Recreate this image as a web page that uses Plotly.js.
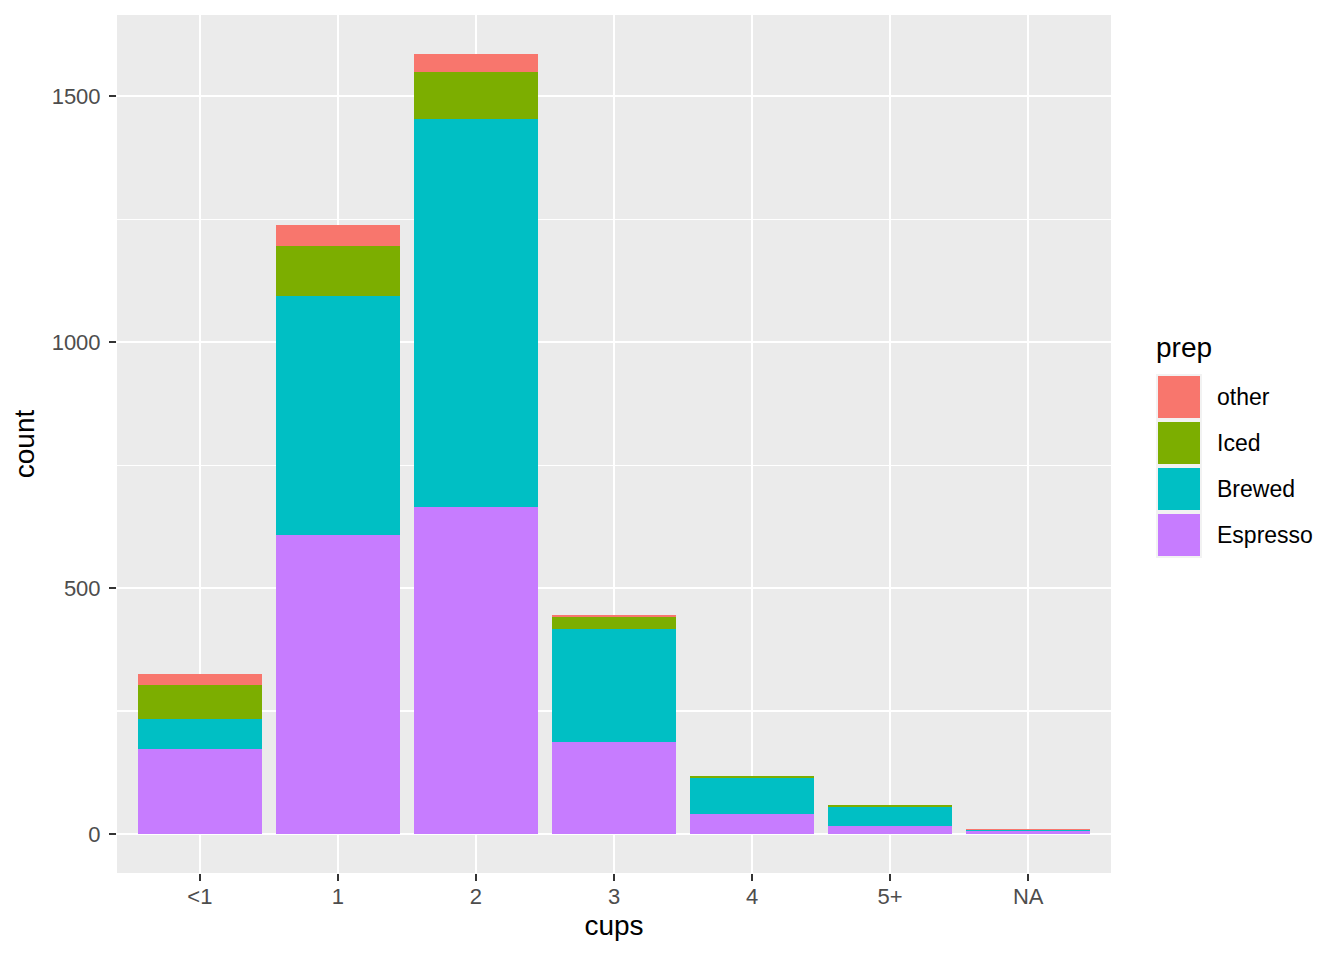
<!DOCTYPE html>
<html>
<head>
<meta charset="utf-8">
<script src="https://cdn.plot.ly/plotly-3.0.1.min.js"></script>
<style>body{margin:0;background:#fff;}#chart{width:1344px;height:960px;}</style>
</head>
<body>
<div id="chart"></div>
<script>
// Data
const cups = ["<1", "1", "2", "3", "4", "5+", "NA"];
const espresso = [173, 608, 665, 188, 41, 16, 6];
const brewed   = [61, 486, 788, 229, 73, 39, 3];
const iced     = [69, 102, 96, 24, 4, 4, 0];
const other    = [22, 43, 37, 4, 0, 0, 1];
const prepNames  = ["Espresso", "Brewed", "Iced", "other"];
const prepColors = ["#C77CFF", "#00BFC4", "#7CAE00", "#F8766D"];
const yTicks = [0, 500, 1000, 1500];

const series = [espresso, brewed, iced, other];
const traces = series.map((vals, i) => ({
  type: "bar",
  x: cups,
  y: vals,
  name: prepNames[i],
  width: 0.9,
  marker: {color: prepColors[i], line: {width: 0}},
  showlegend: false,
  hoverinfo: "x+y+name"
}));

// totals for axis expansion (ggplot default 5%)
const totals = cups.map((c, j) => series.reduce((s, v) => s + v[j], 0));
const ymax = Math.max(...totals);
const pad = ymax * 0.05;

const font = "Liberation Sans, Arial, Helvetica, sans-serif";

// plot area in pixels
const L = 117, R = 1111, T = 15, B = 873;
const px = x => (x - L) / (R - L);
const py = y => (B - y) / (B - T);

// custom legend (ggplot style)
const legendOrder = [3, 2, 1, 0];
const shapes = [];
const annotations = [];
const keyTop = 374, keyH = 46, keyL = 1156, keyR = 1202;
shapes.push({type: "rect", xref: "paper", yref: "paper",
  x0: px(keyL), x1: px(keyR), y0: py(keyTop), y1: py(keyTop + keyH * 4),
  fillcolor: "#F2F2F2", line: {width: 0}});
legendOrder.forEach((idx, k) => {
  const t = keyTop + k * keyH;
  shapes.push({type: "rect", xref: "paper", yref: "paper",
    x0: px(keyL + 2), x1: px(keyR - 2), y0: py(t + 2), y1: py(t + keyH - 2),
    fillcolor: prepColors[idx], line: {width: 0}});
  annotations.push({xref: "paper", yref: "paper", x: px(1215), y: py(t + keyH / 2),
    xanchor: "left", yanchor: "middle", showarrow: false, text: prepNames[idx],
    font: {family: font, size: 23, color: "#000000"}});
});
annotations.push({xref: "paper", yref: "paper", x: px(1154), y: py(347),
  xanchor: "left", yanchor: "middle", showarrow: false, text: "prep",
  font: {family: font, size: 28, color: "#000000"}});

const layout = {
  width: 1344, height: 960,
  margin: {l: L, r: 1344 - R, t: T, b: 960 - B, pad: 0},
  paper_bgcolor: "#FFFFFF",
  plot_bgcolor: "#EBEBEB",
  barmode: "stack",
  bargap: 0.1,
  showlegend: false,
  font: {family: font},
  xaxis: {
    type: "category",
    range: [-0.6, cups.length - 0.4],
    showgrid: true, gridcolor: "#FFFFFF", gridwidth: 2.2,
    zeroline: false, showline: false,
    ticks: "outside", ticklen: 7, tickwidth: 2.2, tickcolor: "#333333",
    ticklabelstandoff: -3,
    tickfont: {family: font, size: 22, color: "#4D4D4D"},
    title: {text: "cups", font: {family: font, size: 28, color: "#000000"}, standoff: 6},
    automargin: false,
    fixedrange: true
  },
  yaxis: {
    range: [-pad, ymax + pad],
    tickvals: yTicks,
    ticktext: yTicks.map(String),
    showgrid: true, gridcolor: "#FFFFFF", gridwidth: 2.2,
    minor: {dtick: 250, tick0: 0, showgrid: true, gridcolor: "#FFFFFF", gridwidth: 1.1, ticks: ""},
    zeroline: false, showline: false,
    ticks: "outside", ticklen: 7, tickwidth: 2.2, tickcolor: "#333333",
    ticklabelstandoff: 4,
    tickfont: {family: font, size: 22, color: "#4D4D4D"},
    title: {text: "count", font: {family: font, size: 28, color: "#000000"}, standoff: 8},
    automargin: false,
    fixedrange: true
  },
  shapes: shapes,
  annotations: annotations
};

Plotly.newPlot("chart", traces, layout, {displayModeBar: false, staticPlot: true});
</script>
</body>
</html>
